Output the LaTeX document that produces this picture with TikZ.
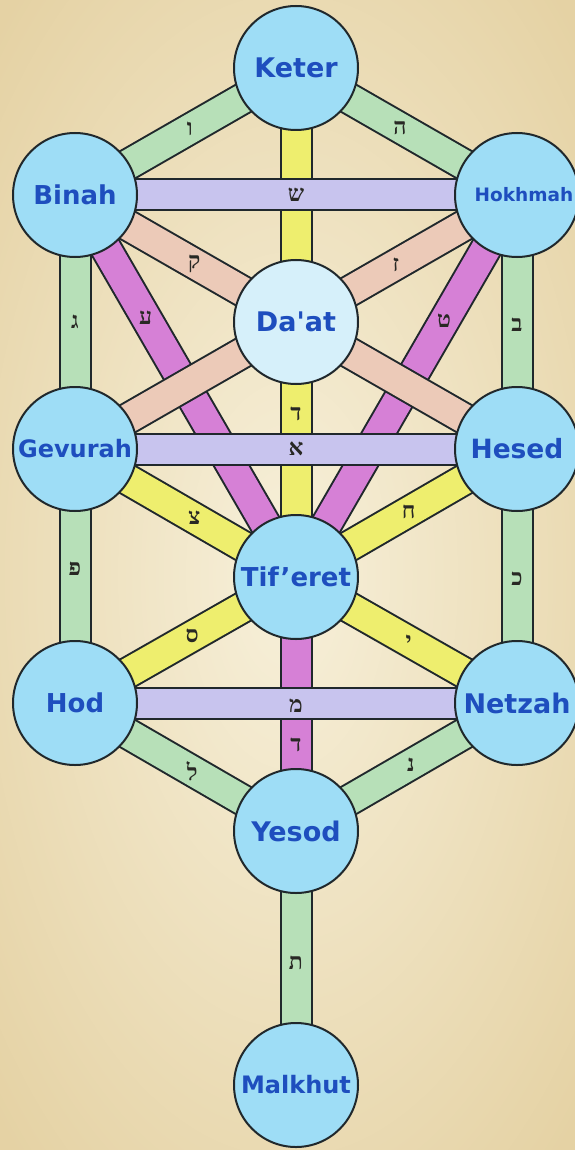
\documentclass[tikz,border=0pt]{standalone}
\usepackage{fontspec}
\setmainfont{DejaVu Sans}
\newfontfamily\heb[Script=Hebrew]{Liberation Serif}
\TeXXeTstate=1
\definecolor{outline}{RGB}{32,40,44}
\definecolor{sky}{RGB}{158,221,246}
\definecolor{paleSky}{RGB}{214,240,250}
\definecolor{textblue}{RGB}{30,78,190}
\definecolor{letcol}{RGB}{40,40,36}
\definecolor{pgreen}{RGB}{183,224,184}
\definecolor{pyellow}{RGB}{238,238,110}
\definecolor{plav}{RGB}{200,196,238}
\definecolor{ppink}{RGB}{236,202,184}
\definecolor{pmag}{RGB}{214,128,214}
\definecolor{paperin}{RGB}{247,240,218}
\definecolor{paperout}{RGB}{229,210,164}
\pgfdeclarelayer{paper}
\pgfdeclarelayer{bars}
\pgfsetlayers{paper,bars,main}
\begin{document}
\begin{tikzpicture}[x=1pt,y=-1pt,
  sefira/.style={circle, draw=outline, line width=2pt, fill=sky, minimum size=124pt, inner sep=0pt, text=textblue},
  sz/.style={font=\bfseries\fontsize{#1}{#1}\selectfont},
  bar/.style={draw=outline, line width=2pt, double=#1, double distance=29pt},
  lett/.style={inner sep=0pt, text=letcol, font=\heb\bfseries\fontsize{23}{23}\selectfont}]
\useasboundingbox (0,0) rectangle (575,1150);
\begin{pgfonlayer}{paper}
  \shade[inner color=paperin, outer color=paperout] (-120,-200) rectangle (695,1350);
\end{pgfonlayer}
% Sefirot
\node[sefira, sz=27] (keter)   at (296,68)   {Keter};
\node[sefira, sz=26] (binah)   at (75,195)   {Binah};
\node[sefira, sz=18.5] (hokhmah) at (517,195)  {\hspace{14pt}Hokhmah};
\node[sefira, sz=27, fill=paleSky] (daat) at (296,322) {Da\textquotesingle at};
\node[sefira, sz=24] (gevurah) at (75,449)   {Gevurah};
\node[sefira, sz=26.5] (hesed) at (517,449)  {Hesed};
\node[sefira, sz=26] (tiferet) at (296,577)  {Tif’eret};
\node[sefira, sz=26] (hod)     at (75,703)   {Hod};
\node[sefira, sz=27] (netzah)  at (517,703)  {Netzah};
\node[sefira, sz=27] (yesod)   at (296,831)  {Yesod};
\node[sefira, sz=24] (malkhut) at (296,1085) {Malkhut};
\begin{pgfonlayer}{bars}
  % magenta
  \draw[bar=pmag] (binah.center) -- node[lett, pos=0.32] {\beginR ע\endR} (tiferet.center);
  \draw[bar=pmag] (hokhmah.center) -- node[lett, pos=0.33] {\beginR ט\endR} (tiferet.center);
  \draw[bar=pmag] (tiferet.center) -- node[lett, pos=0.66] {\beginR ד\endR} (yesod.center);
  % yellow central
  \draw[bar=pyellow] (keter.center) -- node[lett, pos=0.68] {\beginR ד\endR} (tiferet.center);
  % pink
  \draw[bar=ppink] (binah.center) -- node[lett, pos=0.27] {\beginR ק\endR} (hesed.center);
  \draw[bar=ppink] (hokhmah.center) -- node[lett, pos=0.274] {\beginR ז\endR} (gevurah.center);
  % green
  \draw[bar=pgreen] (keter.center) -- node[lett, pos=0.48] {\beginR ו\endR} (binah.center);
  \draw[bar=pgreen] (keter.center) -- node[lett, pos=0.47] {\beginR ה\endR} (hokhmah.center);
  \draw[bar=pgreen] (binah.center) -- node[lett, pos=0.5] {\beginR ג\endR} (gevurah.center);
  \draw[bar=pgreen] (hokhmah.center) -- node[lett, pos=0.51] {\beginR ב\endR} (hesed.center);
  \draw[bar=pgreen] (gevurah.center) -- node[lett, pos=0.47] {\beginR פ\endR} (hod.center);
  \draw[bar=pgreen] (hesed.center) -- node[lett, pos=0.51] {\beginR כ\endR} (netzah.center);
  \draw[bar=pgreen] (hod.center) -- node[lett, pos=0.53] {\beginR ל\endR} (yesod.center);
  \draw[bar=pgreen] (netzah.center) -- node[lett, pos=0.48] {\beginR נ\endR} (yesod.center);
  \draw[bar=pgreen] (yesod.center) -- node[lett, pos=0.52] {\beginR ת\endR} (malkhut.center);
  % yellow diagonals
  \draw[bar=pyellow] (gevurah.center) -- node[lett, pos=0.54] {\beginR צ\endR} (tiferet.center);
  \draw[bar=pyellow] (hesed.center) -- node[lett, pos=0.49] {\beginR ח\endR} (tiferet.center);
  \draw[bar=pyellow] (tiferet.center) -- node[lett, pos=0.47] {\beginR ס\endR} (hod.center);
  \draw[bar=pyellow] (tiferet.center) -- node[lett, pos=0.51] {\beginR י\endR} (netzah.center);
  % lavender horizontals
  \draw[bar=plav] (binah.center) -- node[lett, pos=0.5] {\beginR ש\endR} (hokhmah.center);
  \draw[bar=plav] (gevurah.center) -- node[lett, pos=0.5] {\beginR א\endR} (hesed.center);
  \draw[bar=plav] (hod.center) -- node[lett, pos=0.5, yshift=-3pt] {\beginR מ\endR} (netzah.center);
\end{pgfonlayer}
\end{tikzpicture}
\end{document}
